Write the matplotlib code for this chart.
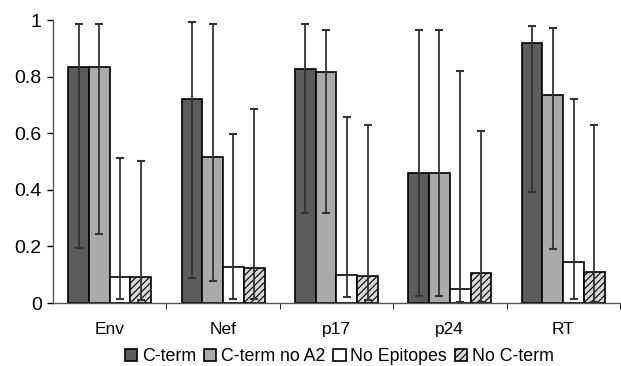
import matplotlib.pyplot as plt
import numpy as np

plt.rcParams["font.family"] = ["Liberation Sans", "DejaVu Sans"]

genes = ["Env", "Nef", "p17", "p24", "RT"]
series = ["C-term", "C-term no A2", "No Epitopes", "No C-term"]

values = [
    [0.835, 0.72, 0.829, 0.459, 0.92],
    [0.835, 0.517, 0.817, 0.459, 0.735],
    [0.091, 0.127, 0.099, 0.048, 0.145],
    [0.091, 0.123, 0.095, 0.107, 0.109],
]
err_high = [
    [0.988, 0.994, 0.986, 0.965, 0.979],
    [0.988, 0.988, 0.965, 0.965, 0.971],
    [0.512, 0.597, 0.656, 0.821, 0.722],
    [0.503, 0.686, 0.631, 0.609, 0.629],
]
err_low = [
    [0.194, 0.088, 0.317, 0.025, 0.391],
    [0.243, 0.079, 0.317, 0.025, 0.190],
    [0.013, 0.013, 0.020, 0.003, 0.013],
    [0.010, 0.013, 0.010, 0.003, 0.003],
]

colors = ["#5c5c5c", "#aaaaaa", "white", "#d8d8d8"]
hatches = [None, None, None, "/////"]

fig = plt.figure(figsize=(6.21, 3.66), dpi=100)
ax = fig.add_axes([0.0853, 0.172, 0.913, 0.773])

x = np.arange(len(genes))
width = 0.183
plt.rcParams["hatch.linewidth"] = 0.8
plt.rcParams["hatch.color"] = "#444444"
for i, name in enumerate(series):
    pos = x + (i - 1.5) * width
    v = np.array(values[i])
    yerr = [v - np.array(err_low[i]), np.array(err_high[i]) - v]
    ax.bar(pos, v, width, color=colors[i], edgecolor="black", linewidth=1.2,
           hatch=hatches[i], label=name, zorder=2)
    ax.errorbar(pos, v, yerr=yerr, fmt="none", ecolor="#333333",
                elinewidth=1.3, capsize=3, capthick=1.5, zorder=3)

ax.set_xlim(-0.5, 4.5)
ax.set_ylim(0, 1)
ax.set_yticks([0, 0.2, 0.4, 0.6, 0.8, 1])
ax.set_yticklabels(["0", "0.2", "0.4", "0.6", "0.8", "1"], fontsize=14)
ax.set_xticks(x)
ax.set_xticklabels(genes, fontsize=12.5)
ax.tick_params(axis="x", length=0, pad=14)
ax.set_xticks(x + 0.5, minor=True)
ax.tick_params(axis="x", which="minor", length=4, direction="out")
ax.tick_params(axis="y", length=4, width=1, pad=4)
for s in ["top", "right"]:
    ax.spines[s].set_visible(False)
for s in ["left", "bottom"]:
    ax.spines[s].set_color("#555555")
    ax.spines[s].set_linewidth(1)

ax.legend(loc="upper center", bbox_to_anchor=(0.505, -0.135), ncol=4,
          frameon=False, fontsize=12.8, handlelength=0.7, handleheight=0.7,
          handletextpad=0.25, columnspacing=0.45, borderaxespad=0)

fig.savefig("out.png", dpi=100)
